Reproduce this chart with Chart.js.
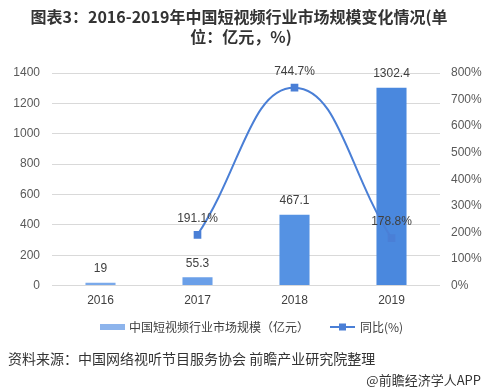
<!DOCTYPE html>
<html>
<head>
<meta charset="utf-8">
<script src="https://cdn.jsdelivr.net/npm/chart.js@4"></script>
<style>
  html, body { margin: 0; padding: 0; background: #fff; }
</style>
</head>
<body>
<canvas id="chart" width="482" height="391"></canvas>
<script>
// 数据
const years = ["2016", "2017", "2018", "2019"];
const marketSize = [19, 55.3, 467.1, 1302.4];      // 亿元
const yoyGrowth = [null, 191.1, 744.7, 178.8];     // %
const barColors = ["#7aa9ea", "#6a9fe8", "#5592e3", "#4a88de"];

const titleLines = ["图表3：2016-2019年中国短视频行业市场规模变化情况(单", "位：亿元，%)"];
const sourceText = "资料来源：中国网络视听节目服务协会 前瞻产业研究院整理";
const brandText = "@前瞻经济学人APP";

const CJK = "'Noto Sans CJK SC', 'Microsoft YaHei', sans-serif";
const NUM = "'Liberation Sans', 'Noto Sans CJK SC', sans-serif";
const lineColor = "#4a7fd6";

// 数据标签、标题、图例、来源
const extras = {
  id: "extras",
  afterDatasetsDraw(chart) {
    const ctx = chart.ctx;
    ctx.save();
    ctx.font = "12px " + NUM;
    ctx.fillStyle = "#404040";
    ctx.textAlign = "center";
    ctx.textBaseline = "middle";
    chart.getDatasetMeta(0).data.forEach((el, i) => {
      ctx.fillText(String(marketSize[i]), el.x, el.y - 14);
    });
    chart.getDatasetMeta(1).data.forEach((el, i) => {
      if (yoyGrowth[i] == null) return;
      ctx.fillText(yoyGrowth[i].toFixed(1) + "%", el.x, el.y - 16);
    });
    ctx.restore();
  },
  afterDraw(chart) {
    const ctx = chart.ctx;
    ctx.save();
    // 标题
    ctx.fillStyle = "#333";
    ctx.textAlign = "center";
    ctx.textBaseline = "middle";
    ctx.font = "bold 16px " + CJK;
    ctx.fillText(titleLines[0], 239, 17);
    ctx.fillText(titleLines[1], 241, 37);

    // 图例
    ctx.font = "12px " + CJK;
    ctx.textAlign = "left";
    ctx.fillStyle = "#8db4ec";
    ctx.fillRect(100, 324, 25, 6);
    ctx.fillStyle = "#404040";
    ctx.fillText("中国短视频行业市场规模（亿元）", 129, 327);
    ctx.strokeStyle = lineColor;
    ctx.lineWidth = 2;
    ctx.beginPath();
    ctx.moveTo(330, 327);
    ctx.lineTo(355, 327);
    ctx.stroke();
    ctx.fillStyle = lineColor;
    ctx.fillRect(339, 323.5, 7, 7);
    ctx.fillStyle = "#404040";
    ctx.fillText("同比(%)", 360, 327);

    // 来源
    ctx.font = "14px " + CJK;
    ctx.fillStyle = "#333";
    ctx.fillText(sourceText, 8, 359);
    ctx.font = "13px " + CJK;
    ctx.textAlign = "right";
    ctx.fillText(brandText, 481, 380);
    ctx.restore();
  }
};

new Chart(document.getElementById("chart"), {
  data: {
    labels: years,
    datasets: [
      {
        type: "bar",
        label: "中国短视频行业市场规模（亿元）",
        data: marketSize,
        backgroundColor: barColors,
        yAxisID: "y",
        barPercentage: 0.31,
        categoryPercentage: 1,
        order: 2,
      },
      {
        type: "line",
        label: "同比(%)",
        data: yoyGrowth,
        borderColor: lineColor,
        backgroundColor: lineColor,
        borderWidth: 2,
        pointStyle: "rect",
        pointRadius: 4,
        tension: 0.45,
        yAxisID: "y1",
        order: 1,
      },
    ],
  },
  options: {
    responsive: false,
    animation: false,
    devicePixelRatio: 1,
    layout: { padding: { top: 73, left: 14, right: 0, bottom: 83 } },
    plugins: {
      legend: { display: false },
      title: { display: false },
      tooltip: { enabled: false },
    },
    scales: {
      x: {
        grid: { display: false },
        border: { display: false },
        ticks: { color: "#404040", font: { size: 12, family: NUM }, padding: 0 },
      },
      y: {
        position: "left",
        min: 0,
        max: 1400,
        afterFit: (scale) => { scale.width = 38; },
        ticks: {
          stepSize: 200,
          color: "#595959",
          font: { size: 12, family: NUM },
          padding: 12,
          callback: (v) => String(v),
        },
        grid: { color: "#d9d9d9", drawTicks: false },
        border: { display: false },
      },
      y1: {
        position: "right",
        min: 0,
        max: 800,
        afterFit: (scale) => { scale.width = 42; },
        ticks: {
          stepSize: 100,
          color: "#595959",
          font: { size: 12, family: NUM },
          padding: 11,
          callback: (v) => v + "%",
        },
        grid: { display: false, drawTicks: false },
        border: { display: false },
      },
    },
  },
  plugins: [extras],
});
</script>
</body>
</html>
